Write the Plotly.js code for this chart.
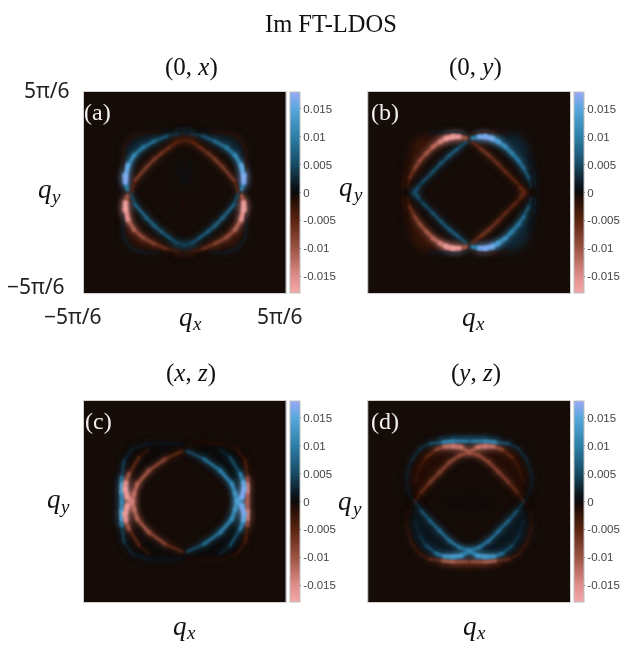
<!DOCTYPE html>
<html><head><meta charset="utf-8">
<script src="https://cdn.plot.ly/plotly-3.0.1.min.js"></script>
<style>
html,body{margin:0;padding:0;background:#fff}
.scatterlayer .js-line{stroke-linecap:round;filter:blur(1px)}
.scatterlayer .trace[style*="opacity: 0.55"] .js-line{filter:blur(3px)}
.scatterlayer .js-fill{filter:blur(4px)}
</style></head><body><div id="chart" style="width:621px;height:645px"></div>
<script>
// q axes are in units of 5π/6. Points are [qx, qy, Im FT-LDOS]; one quadrant read, the others by the panel's parity.
const tickVals=[0.015,0.01,0.005,0,-0.005,-0.01,-0.015];
const tickText=['0.015','0.01','0.005','0','-0.005','-0.01','-0.015'];
const panelTitles=['(0, <i>x</i>)','(0, <i>y</i>)','(<i>x</i>, <i>z</i>)','(<i>y</i>, <i>z</i>)'];
const panelTags=['(a)','(b)','(c)','(d)'];
const background=[[-0.0005,-0.0005],[-0.0005,-0.0005]];

const aMain=[[.565,.03,.005],[.585,.10,.016],[.585,.17,.018],[.56,.27,.013],[.50,.37,.010],[.41,.45,.009],[.30,.51,.008],[.18,.56,.005],[.07,.585,.003],[0,.59,.002]];
const aInner=[[.533,0,-.003],[.49,.12,-.007],[.38,.25,-.008],[.30,.33,-.007],[.23,.39,-.007],[.15,.45,-.006],[.08,.50,-.005],[0,.52,-.004]];
const aRim=[[.60,.20,-.001],[.615,.33,-.002],[.60,.46,-.002],[.52,.56,-.002],[.40,.60,-.002],[.25,.60,-.001],[.10,.62,.002],[0,.635,.002]];
const aNoise=[[.02,.08,.0012],[.03,.16,.0012],[.06,.30,.0008]];
const aLobe=[[.59,.22],[.605,.38],[.585,.48],[.51,.55],[.38,.58],[.2,.585],[.18,.56],[.30,.51],[.41,.45],[.50,.37],[.56,.27]];
const aLens=[[0,.52],[.08,.50],[.14,.56],[0,.59]];

const bMain=[[.03,.54,.006],[.10,.555,.015],[.16,.555,.018],[.23,.537,.015],[.29,.504,.013],[.36,.454,.011],[.425,.388,.010],[.49,.315,.009],[.54,.24,.008],[.59,.14,.005],[.61,.056,.002]];
const bInner=[[.03,.504,-.005],[.12,.43,-.007],[.195,.37,-.007],[.28,.29,-.006],[.36,.205,-.006],[.46,.106,-.005],[.555,.007,-.004]];
const bBlob=[[.50,.05,-.005],[.54,0,-.006]];
const bRim=[[.03,.585,-.002],[.13,.60,-.003],[.26,.60,-.002],[.39,.59,-.001]];
const bGlow=[[.60,.35,.001],[.645,.2,.002],[.655,.05,.002]];
const bLobe=[[.29,.504],[.36,.454],[.425,.388],[.49,.315],[.54,.24],[.59,.14],[.60,.3],[.59,.40],[.55,.51],[.46,.575],[.33,.59],[.20,.58]];

const cInner=[[.025,.50,.003],[.19,.424,.008],[.353,.308,.009],[.468,.175,.011],[.50,.08,.012],[.524,0,.013]];
const cSecond=[[.35,.52,.002],[.45,.44,.003],[.55,.275,.008],[.583,.19,.013],[.59,.125,.018],[.567,.043,.015],[.524,0,.013]];
const cOuter=[[.025,.573,-.001],[.19,.583,-.0015],[.353,.58,-.0015],[.517,.523,-.002],[.60,.407,-.003],[.622,.24,-.006],[.622,.175,-.013],[.622,.093,-.014],[.622,0,-.008]];
const cGlow=[[.66,.2,-.001],[.67,.05,-.002]];
const cLobe=[[.025,.52],[.19,.424],[.353,.308],[.468,.175],[.58,.2],[.60,.40],[.51,.51],[.35,.57],[.19,.57]];

const dOuter=[[.015,.60,.006],[.16,.60,.013],[.26,.59,.008],[.39,.576,.004],[.49,.523,.003],[.573,.407,.003],[.622,.24,.002],[.606,.11,.0015],[.557,.01,.001]];
const dSecond=[[0,.49,-.009],[.08,.54,-.012],[.16,.55,-.014],[.245,.546,-.011],[.327,.517,-.007],[.425,.44,-.004],[.49,.34,-.003],[.54,.19,-.002]];
const dMain=[[0,.49,-.009],[.097,.457,-.009],[.195,.39,-.008],[.294,.29,-.008],[.39,.19,-.007],[.475,.093,-.005],[.54,0,-.002]];
const dGlow=[[0,.635,.004],[.15,.635,.004],[.3,.625,.002]];
const dNoise=[[.02,.05,.001],[.22,.045,-.001]];
const dLobe=[[.54,.02],[.60,.20],[.60,.33],[.55,.42],[.47,.52],[.36,.56],[.2,.56],[.05,.50],[.2,.38],[.35,.23],[.48,.09]];

const panels=[
 {arcs:[aRim,aNoise,aInner,aMain],fills:[[aLobe,.0022],[aLens,-.005]],par:[[1,1,1],[-1,1,1],[1,-1,-1],[-1,-1,-1]]},
 {arcs:[bRim,bGlow,bInner,bBlob,bMain],fills:[[bLobe,.0025]],par:[[1,1,1],[1,-1,1],[-1,1,-1],[-1,-1,-1]]},
 {arcs:[cGlow,cOuter,cInner,cSecond],fills:[[cLobe,.0001]],par:[[1,1,1],[1,-1,1],[-1,1,-1],[-1,-1,-1]]},
 {arcs:[dNoise,dGlow,dOuter,dMain,dSecond],fills:[[dLobe,-.0012]],par:[[1,1,1],[-1,1,1],[1,-1,-1],[-1,-1,-1]]}
];

const VMAX=0.018, W=621, H=645;
const stops=[[-.018,'#f4a8a8'],[-.015,'#e08e8a'],[-.01,'#9c5342'],[-.005,'#5a2410'],[-.001,'#200c05'],[0,'#0b0b0b'],[.001,'#0a1218'],[.005,'#174a64'],[.01,'#2c7fa8'],[.015,'#58a8dc'],[.018,'#9aa8f8']];
const colorscale=stops.map(s=>[(s[0]+VMAX)/(2*VMAX),s[1]]);
function rgb(h){return [1,3,5].map(i=>parseInt(h.substr(i,2),16));}
function colorOf(v){
  v=Math.max(-VMAX,Math.min(VMAX,v));
  for(let i=1;i<stops.length;i++){ if(v<=stops[i][0]){
    const a=rgb(stops[i-1][1]),b=rgb(stops[i][1]),t=(v-stops[i-1][0])/(stops[i][0]-stops[i-1][0]);
    return 'rgb('+a.map((c,k)=>Math.round(c+(b[k]-c)*t)).join(',')+')';}}
  return stops[stops.length-1][1];
}
const boxes=[[84,287,92,293,291],[370,573,92,293,577],[84,287,401,602,291],[370,573,401,602,577]];
const titleSpots=[[192,67],[478,67],[192,373],[478,373]];
const tagSpots=[[98,112],[387,112],[99,421],[387,421]];
const qySpots=[[50,190],[353,188],[59,500],[352,502]];
const qxSpots=[[192,318],[476,318],[186,627],[477,627]];
const data=[],layout={width:W,height:H,margin:{l:0,r:0,t:0,b:0},paper_bgcolor:'#fff',showlegend:false,annotations:[]};
const SERIF='"Liberation Serif",serif', SANS='"Noto Sans",sans-serif';
function note(px,py,text,size,color,family){layout.annotations.push({xref:'paper',yref:'paper',x:px/W,y:1-py/H,text,showarrow:false,xanchor:'center',yanchor:'middle',font:{size,color:color||'#111',family:family||SERIF}});}

panels.forEach((p,k)=>{
  const n=k?k+1:'',xa='x'+n,ya='y'+n,b=boxes[k];
  const axis={range:[-1,1],showticklabels:false,ticks:'',showgrid:false,zeroline:false,showline:true,mirror:true,linecolor:'#cfcfcf',linewidth:1};
  layout['xaxis'+n]=Object.assign({},axis,{domain:[b[0]/W,b[1]/W],anchor:ya});
  layout['yaxis'+n]=Object.assign({},axis,{domain:[1-b[3]/H,1-b[2]/H],anchor:xa});
  data.push({type:'heatmap',x:[-1,1],y:[-1,1],z:background,xaxis:xa,yaxis:ya,zmin:-VMAX,zmax:VMAX,colorscale,hoverinfo:'skip',
    colorbar:{x:b[4]/W,xanchor:'left',xpad:0,ypad:0,thickness:10,thicknessmode:'pixels',len:(b[3]-b[2])/H,lenmode:'fraction',y:1-(b[2]+b[3])/2/H,yanchor:'middle',
      tickvals:tickVals,ticktext:tickText,ticks:'outside',ticklen:1,tickcolor:'#666',tickfont:{family:'"Liberation Sans",sans-serif',size:11.5,color:'#444'},outlinecolor:'#bdbdbd',outlinewidth:1,borderwidth:0}});
  p.fills.forEach(([poly,v])=>p.par.forEach(m=>{
    data.push({type:'scatter',mode:'lines',x:poly.map(q=>q[0]*m[0]),y:poly.map(q=>q[1]*m[1]),xaxis:xa,yaxis:ya,fill:'toself',fillcolor:colorOf(v*m[2]),line:{width:0},hoverinfo:'skip'});
  }));
  const groups={};
  p.arcs.forEach(arc=>p.par.forEach(m=>{
    for(let i=0;i<arc.length-1;i++){
      const v=(arc[i][2]+arc[i+1][2])/2*m[2], key=Math.round(v/0.0005);
      (groups[key]=groups[key]||{x:[],y:[]});
      groups[key].x.push(arc[i][0]*m[0],arc[i+1][0]*m[0],null);
      groups[key].y.push(arc[i][1]*m[1],arc[i+1][1]*m[1],null);
    }
  }));
  const keys=Object.keys(groups).map(Number).sort((u,w)=>Math.abs(u)-Math.abs(w));
  keys.forEach(key=>{const v=key*0.0005,g=groups[key];
    data.push({type:'scatter',mode:'lines',x:g.x,y:g.y,xaxis:xa,yaxis:ya,opacity:.55,line:{color:colorOf(v),width:3+300*Math.abs(v)},hoverinfo:'skip'});
  });
  keys.forEach(key=>{const v=key*0.0005,g=groups[key];
    data.push({type:'scatter',mode:'lines',x:g.x,y:g.y,xaxis:xa,yaxis:ya,line:{color:colorOf(v),width:1.2+210*Math.abs(v)},hoverinfo:'skip'});
  });
  note(titleSpots[k][0],titleSpots[k][1],panelTitles[k],25);
  note(tagSpots[k][0],tagSpots[k][1],panelTags[k],24,'#f0f0f0');
  note(qySpots[k][0]-5,qySpots[k][1]-1,'<i>q</i>',27);
  note(qySpots[k][0]+6,qySpots[k][1]+6,'<i>y</i>',19);
  note(qxSpots[k][0]-5,qxSpots[k][1]-1,'<i>q</i>',27);
  note(qxSpots[k][0]+6,qxSpots[k][1]+5,'<i>x</i>',19);
});
note(333,23,'Im FT-LDOS',24.5);
note(47,90,'5π/6',21,'#222',SANS);
note(36,286,'−5π/6',21,'#222',SANS);
note(73,316,'−5π/6',21,'#222',SANS);
note(281,316,'5π/6',21,'#222',SANS);
Plotly.newPlot('chart',data,layout,{displayModeBar:false,staticPlot:true});
</script></body></html>
